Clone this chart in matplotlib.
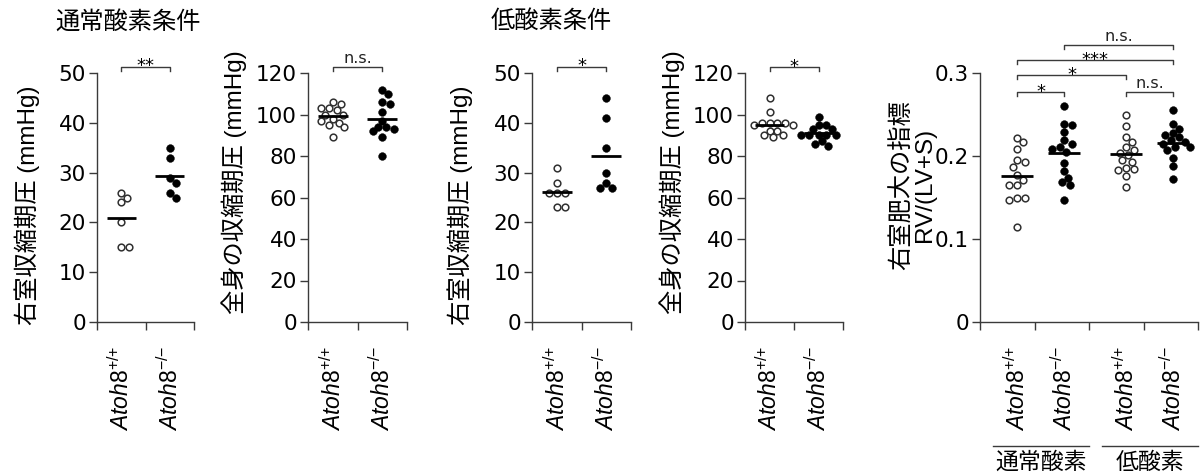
import numpy as np
import matplotlib
matplotlib.use('Agg')
import matplotlib.pyplot as plt
from matplotlib.transforms import blended_transform_factory

plt.rcParams['font.family'] = ['Liberation Sans', 'Noto Sans CJK JP']
plt.rcParams['mathtext.fontset'] = 'custom'
plt.rcParams['mathtext.it'] = 'Liberation Sans:italic'
plt.rcParams['mathtext.rm'] = 'Liberation Sans'

# ---- data ----
wt_label = r'$\mathit{Atoh8}^{{+}/{+}}$'
ko_label = r'$\mathit{Atoh8}^{{-}/{-}}$'

rvsp_norm_wt = [26, 25, 24, 20, 15, 15]
rvsp_norm_ko = [35, 33, 29, 28, 26, 25]
sbp_norm_wt = [106, 105, 103, 103, 102, 100, 100, 98, 97, 96, 95, 94, 89]
sbp_norm_ko = [112, 110, 106, 105, 101, 97, 94, 94, 93, 92, 89, 80]
rvsp_hyp_wt = [31, 28, 26, 26, 26, 23, 23]
rvsp_hyp_ko = [45, 41, 35, 30, 28, 27, 27]
sbp_hyp_wt = [108, 101, 96, 96, 96, 96, 95, 95, 92, 90, 89, 90, 92]
sbp_hyp_ko = [99, 95, 95, 93, 93, 90, 90, 90, 90, 90, 87, 85, 86]
fulton_norm_wt = [0.222, 0.217, 0.208, 0.195, 0.193, 0.187, 0.177, 0.171,
                  0.165, 0.165, 0.150, 0.147, 0.149, 0.114]
fulton_norm_ko = [0.260, 0.239, 0.237, 0.229, 0.219, 0.215, 0.211, 0.208,
                  0.205, 0.191, 0.182, 0.174, 0.169, 0.165, 0.147]
fulton_hyp_wt = [0.250, 0.236, 0.223, 0.217, 0.211, 0.204, 0.207, 0.201,
                 0.195, 0.193, 0.186, 0.184, 0.183, 0.176, 0.163]
fulton_hyp_ko = [0.255, 0.239, 0.233, 0.228, 0.225, 0.223, 0.219, 0.217,
                 0.215, 0.211, 0.211, 0.207, 0.197, 0.188, 0.172]

titles = ['通常酸素条件', '低酸素条件']
group_names = ['通常酸素', '低酸素']
rvsp_label = '右室収縮期圧 (mmHg)'
sbp_label = '全身の収縮期圧 (mmHg)'
fulton_label = '右室肥大の指標\nRV/(LV+S)'

FIG_W, FIG_H = 1201, 475
fig = plt.figure(figsize=(FIG_W / 100, FIG_H / 100), dpi=100)

AX_COLOR = '#3a3a3a'
WIDE = 'DejaVu Sans'
DOT_D = 7.8  # marker diameter in px


def px_rect(left, width):
    return [left / FIG_W, 153 / FIG_H, width / FIG_W, 249 / FIG_H]


def swarm_x(values, center, ux, uy):
    values = np.asarray(values, dtype=float)
    order = np.argsort(-values, kind='stable')
    step = DOT_D * 0.25
    cands = [0.0]
    for k in range(1, 60):
        cands += [k * step, -k * step]
    placed = []
    xs = np.zeros(len(values))
    for i in order:
        y = values[i] * uy
        for c in cands:
            if all((c - px) ** 2 + (y - py) ** 2 >= (DOT_D * 0.9) ** 2 for px, py in placed):
                break
        placed.append((c, y))
        xs[i] = center + c / ux
    return xs


def draw_panel(rect, groups, positions, xmax, ymax, yticks, yticklabels,
               ylabel, label_xy, brackets, bracket_drop):
    ax = fig.add_axes(rect)
    ax.set_xlim(0, xmax)
    ax.set_ylim(0, ymax)
    for s in ['top', 'right']:
        ax.spines[s].set_visible(False)
    for s in ['left', 'bottom']:
        ax.spines[s].set_color(AX_COLOR)
        ax.spines[s].set_linewidth(1.0)
    ax.set_yticks(yticks)
    ax.set_yticklabels(yticklabels)
    ax.set_xticks(np.arange(0, xmax + 1))
    ax.set_xticklabels([])
    labels = [wt_label, ko_label] * (len(groups) // 2)
    ax.set_xticks(positions, labels=labels, minor=True)
    ax.tick_params(axis='both', which='major', direction='out', length=5.5,
                   width=1.0, color=AX_COLOR, labelsize=15.5, pad=2.5,
                   labelfontfamily=WIDE)
    ax.tick_params(axis='x', which='minor', length=0, pad=17, labelsize=16.5,
                   labelrotation=90)
    ax.set_ylabel(ylabel, fontsize=17.5, linespacing=1.05)
    ax.yaxis.set_label_coords(*label_xy)

    ux = rect[2] * FIG_W / xmax
    uy = rect[3] * FIG_H / ymax
    for k, vals in enumerate(groups):
        xs = swarm_x(vals, positions[k], ux, uy)
        if k % 2 == 0:
            ax.scatter(xs, vals, s=(DOT_D * 0.72 - 0.8) ** 2, facecolors='white',
                       edgecolors='#303030', linewidths=1.1, zorder=3, clip_on=False)
        else:
            ax.scatter(xs, vals, s=(DOT_D * 0.72) ** 2, facecolors='black',
                       edgecolors='black', linewidths=0.3, zorder=3, clip_on=False)
        m = np.mean(vals)
        ax.plot([positions[k] - 0.3, positions[k] + 0.3], [m, m], color='black',
                lw=2.0, zorder=4, solid_capstyle='butt')

    for i, j, txt, level in brackets:
        x0, x1 = positions[i], positions[j]
        ax.plot([x0, x0, x1, x1], [level - bracket_drop, level, level, level - bracket_drop],
                color=AX_COLOR, lw=1.0, clip_on=False)
        if '*' in txt:
            ax.annotate(txt, ((x0 + x1) / 2, level), xytext=(0, -3.5), textcoords='offset points',
                        ha='center', va='baseline', fontsize=13, family=WIDE,
                        annotation_clip=False)
        else:
            ax.annotate(txt, ((x0 + x1) / 2, level), xytext=(0, 3), textcoords='offset points',
                        ha='center', va='baseline', fontsize=11.5, color='#222222',
                        family=WIDE, annotation_clip=False)
    return ax


two_pos = [0.5, 1.5]
rvsp_ticks = np.arange(0, 51, 10)
sbp_ticks = np.arange(0, 121, 20)

draw_panel(px_rect(97, 97), [rvsp_norm_wt, rvsp_norm_ko], two_pos, 2, 50,
           rvsp_ticks, [str(t) for t in rvsp_ticks], rvsp_label, (-0.59, 0.47),
           [(0, 1, '**', 51.3)], 0.8)
draw_panel(px_rect(308, 99), [sbp_norm_wt, sbp_norm_ko], two_pos, 2, 120,
           sbp_ticks, [str(t) for t in sbp_ticks], sbp_label, (-0.62, 0.56),
           [(0, 1, 'n.s.', 122.9)], 1.9)
draw_panel(px_rect(532, 99), [rvsp_hyp_wt, rvsp_hyp_ko], two_pos, 2, 50,
           rvsp_ticks, [str(t) for t in rvsp_ticks], rvsp_label, (-0.6, 0.47),
           [(0, 1, '*', 51.3)], 0.8)
draw_panel(px_rect(745, 98), [sbp_hyp_wt, sbp_hyp_ko], two_pos, 2, 120,
           sbp_ticks, [str(t) for t in sbp_ticks], sbp_label, (-0.61, 0.56),
           [(0, 1, '*', 122.7)], 1.9)

four_pos = [0.68, 1.54, 2.68, 3.54]
ax5 = draw_panel(px_rect(980, 218),
                 [fulton_norm_wt, fulton_norm_ko, fulton_hyp_wt, fulton_hyp_ko],
                 four_pos, 4, 0.3, [0, 0.1, 0.2, 0.3], ['0', '0.1', '0.2', '0.3'],
                 fulton_label, (-0.2, 0.55),
                 [(0, 1, '*', 0.277), (2, 3, 'n.s.', 0.277), (0, 2, '*', 0.2976),
                  (0, 3, '***', 0.3157), (1, 3, 'n.s.', 0.3337)], 0.005)

# group underlines below the genotype labels
tr = blended_transform_factory(ax5.transData, ax5.transAxes)
for g, name in enumerate(group_names):
    a, b = four_pos[2 * g] - 0.44, four_pos[2 * g + 1] + 0.46
    ax5.plot([a, b], [-0.498, -0.498], transform=tr, color=AX_COLOR, lw=1.0, clip_on=False)
    ax5.text((a + b) / 2, -0.565, name, transform=tr, ha='center', va='center', fontsize=16.5)

fig.text(128 / FIG_W, 1 - 22 / FIG_H, titles[0], ha='center', va='center', fontsize=17.5)
fig.text(551 / FIG_W, 1 - 22 / FIG_H, titles[1], ha='center', va='center', fontsize=17.5)

fig.savefig('out.png', dpi=100)
